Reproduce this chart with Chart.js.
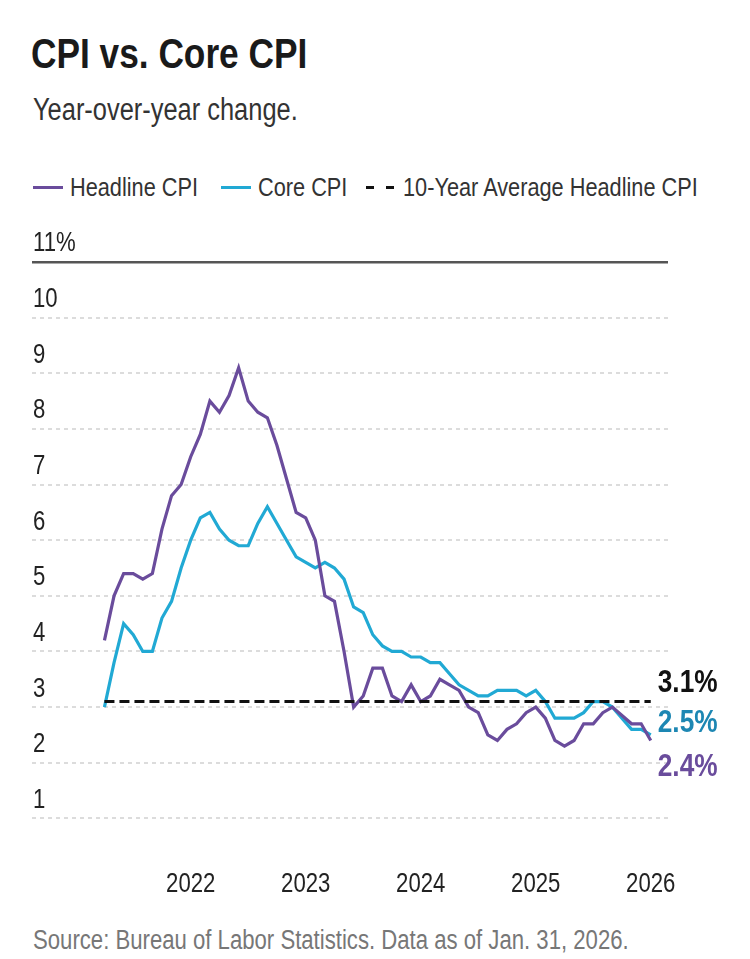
<!DOCTYPE html>
<html>
<head>
<meta charset="utf-8">
<script src="https://cdn.jsdelivr.net/npm/chart.js@4.4.1/dist/chart.umd.min.js"></script>
<style>
  body { margin: 0; background: #fff; width: 750px; height: 959px; overflow: hidden; position: relative;
         font-family: 'Liberation Sans', Arial, sans-serif; color: #222; }
  .txt { position: absolute; white-space: nowrap; transform: scaleX(0.82); transform-origin: 0 0; }
  #title { left: 31px; top: 32px; font-size: 43px; line-height: 43px; font-weight: bold; color: #1a1a1a; }
  #sub { left: 33px; top: 94px; font-size: 31px; line-height: 31px; color: #333; }
  .leg { top: 174px; font-size: 26.5px; line-height: 26.5px; color: #333; }
  .sw { position: absolute; top: 186px; width: 30px; height: 3px; }
  #source { left: 33px; top: 927px; font-size: 27px; line-height: 27px; color: #777; }
  #chart { position: absolute; left: 0; top: 215px; }
</style>
</head>
<body>
<div id="title" class="txt">CPI vs. Core CPI</div>
<div id="sub" class="txt">Year-over-year change.</div>

<span class="sw" style="left:33px;background:#6a4c9c"></span>
<div class="txt leg" style="left:70px">Headline CPI</div>
<span class="sw" style="left:221px;background:#21a9d4"></span>
<div class="txt leg" style="left:258px">Core CPI</div>
<svg style="position:absolute;left:366px;top:185px" width="30" height="5"><line x1="0" y1="2.5" x2="30" y2="2.5" stroke="#111" stroke-width="3" stroke-dasharray="8 12"/></svg>
<div class="txt leg" style="left:403px">10-Year Average Headline CPI</div>

<canvas id="chart" width="750" height="700"></canvas>
<div id="source" class="txt">Source: Bureau of Labor Statistics. Data as of Jan. 31, 2026.</div>
<script>
// monthly, Apr 2021 .. Jan 2026 (Oct 2025 not published)
const startYear = 2021;
const startMonth = 4;
const headline = [4.2, 5.0, 5.4, 5.4, 5.3, 5.4, 6.2, 6.8, 7.0,
  7.5, 7.9, 8.5, 8.3, 8.6, 9.1, 8.5, 8.3, 8.2, 7.7, 7.1, 6.5,
  6.4, 6.0, 5.0, 4.9, 4.0, 3.0, 3.2, 3.7, 3.7, 3.2, 3.1, 3.4,
  3.1, 3.2, 3.5, 3.4, 3.3, 3.0, 2.9, 2.5, 2.4, 2.6, 2.7, 2.9,
  3.0, 2.8, 2.4, 2.3, 2.4, 2.7, 2.7, 2.9, 3.0, null, 2.7, 2.7,
  2.4];
const core = [3.0, 3.8, 4.5, 4.3, 4.0, 4.0, 4.6, 4.9, 5.5,
  6.0, 6.4, 6.5, 6.2, 6.0, 5.9, 5.9, 6.3, 6.6, 6.3, 6.0, 5.7,
  5.6, 5.5, 5.6, 5.5, 5.3, 4.8, 4.7, 4.3, 4.1, 4.0, 4.0, 3.9,
  3.9, 3.8, 3.8, 3.6, 3.4, 3.3, 3.2, 3.2, 3.3, 3.3, 3.3, 3.2,
  3.3, 3.1, 2.8, 2.8, 2.8, 2.9, 3.1, 3.1, 3.0, null, 2.6, 2.6,
  2.5];
const avg10 = 3.1;
const yearTicks = [2022, 2023, 2024, 2025, 2026];
const yTicks = [0, 1, 2, 3, 4, 5, 6, 7, 8, 9, 10, 11];

const purple = '#6a4c9c';
const teal = '#21a9d4';
const FONT = "'Liberation Sans', Arial, sans-serif";

const xOf = i => startYear + (startMonth - 1 + i) / 12;
const toPoints = arr => arr.map((v, i) => ({ x: xOf(i), y: v }));
const firstX = xOf(0);
const lastX = xOf(headline.length - 1);

// condensed text (the source font is a narrow grotesque)
function narrowText(ctx, text, x, y, align) {
  ctx.save();
  ctx.translate(x, y);
  ctx.scale(0.82, 1);
  ctx.textAlign = align;
  ctx.fillText(text, 0, 0);
  ctx.restore();
}

// tick labels, placed from the scales
const axisLabels = {
  id: 'axisLabels',
  afterDraw(chart) {
    const { ctx, chartArea, scales: { x, y } } = chart;
    ctx.save();
    ctx.fillStyle = '#222';
    ctx.font = '27px ' + FONT;
    ctx.textBaseline = 'middle';
    y.ticks.forEach(t => {
      if (t.value === 0) return;
      const txt = t.value === 11 ? '11%' : String(t.value);
      narrowText(ctx, txt, chartArea.left + 1, y.getPixelForValue(t.value) - 18, 'left');
    });
    yearTicks.forEach(v => {
      narrowText(ctx, String(v), x.getPixelForValue(v), chartArea.bottom + 11, 'center');
    });
    ctx.restore();
  }
};

// end-of-line value labels
const endLabels = {
  id: 'endLabels',
  afterDatasetsDraw(chart) {
    const { ctx, scales: { x, y } } = chart;
    const px = x.getPixelForValue(lastX) + 7;
    const items = [
      { val: avg10, dy: -18, color: '#111' },
      { val: core[core.length - 1], dy: -12, color: '#1d87b3' },
      { val: headline[headline.length - 1], dy: 27, color: purple }
    ];
    ctx.save();
    ctx.font = 'bold 32px ' + FONT;
    ctx.textBaseline = 'middle';
    items.forEach(it => {
      ctx.fillStyle = it.color;
      narrowText(ctx, it.val.toFixed(1) + '%', px, y.getPixelForValue(it.val) + it.dy, 'left');
    });
    ctx.restore();
  }
};

new Chart(document.getElementById('chart').getContext('2d'), {
  type: 'line',
  data: {
    datasets: [
      {
        label: '10-Year Average Headline CPI',
        data: [{ x: firstX, y: avg10 }, { x: lastX, y: avg10 }],
        borderColor: '#111',
        borderWidth: 3,
        borderDash: [10, 5],
        pointRadius: 0
      },
      {
        label: 'Headline CPI',
        data: toPoints(headline),
        borderColor: purple,
        borderWidth: 3.2,
        pointRadius: 0,
        spanGaps: true
      },
      {
        label: 'Core CPI',
        data: toPoints(core),
        borderColor: teal,
        borderWidth: 3.2,
        pointRadius: 0,
        spanGaps: true
      }
    ]
  },
  options: {
    responsive: false,
    animation: false,
    layout: { padding: { left: 32, right: 82, top: 47, bottom: 41 } },
    plugins: {
      legend: { display: false },
      tooltip: { enabled: false }
    },
    scales: {
      x: {
        type: 'linear',
        display: false,
        min: 2020.62,
        max: 2026.15
      },
      y: {
        min: 0,
        max: 11,
        afterBuildTicks: axis => { axis.ticks = yTicks.map(v => ({ value: v })); },
        ticks: { display: false },
        grid: {
          drawTicks: false,
          color: c => !c.tick ? '#ddd' : (c.tick.value === 11 ? '#555' : (c.tick.value === 0 ? 'rgba(0,0,0,0)' : '#dcdcdc')),
          lineWidth: c => c.tick && c.tick.value === 11 ? 2.5 : 2
        },
        border: {
          display: false,
          dash: c => c.tick && c.tick.value === 11 ? [] : [4, 4]
        }
      }
    }
  },
  plugins: [axisLabels, endLabels]
});
</script>
</body>
</html>
